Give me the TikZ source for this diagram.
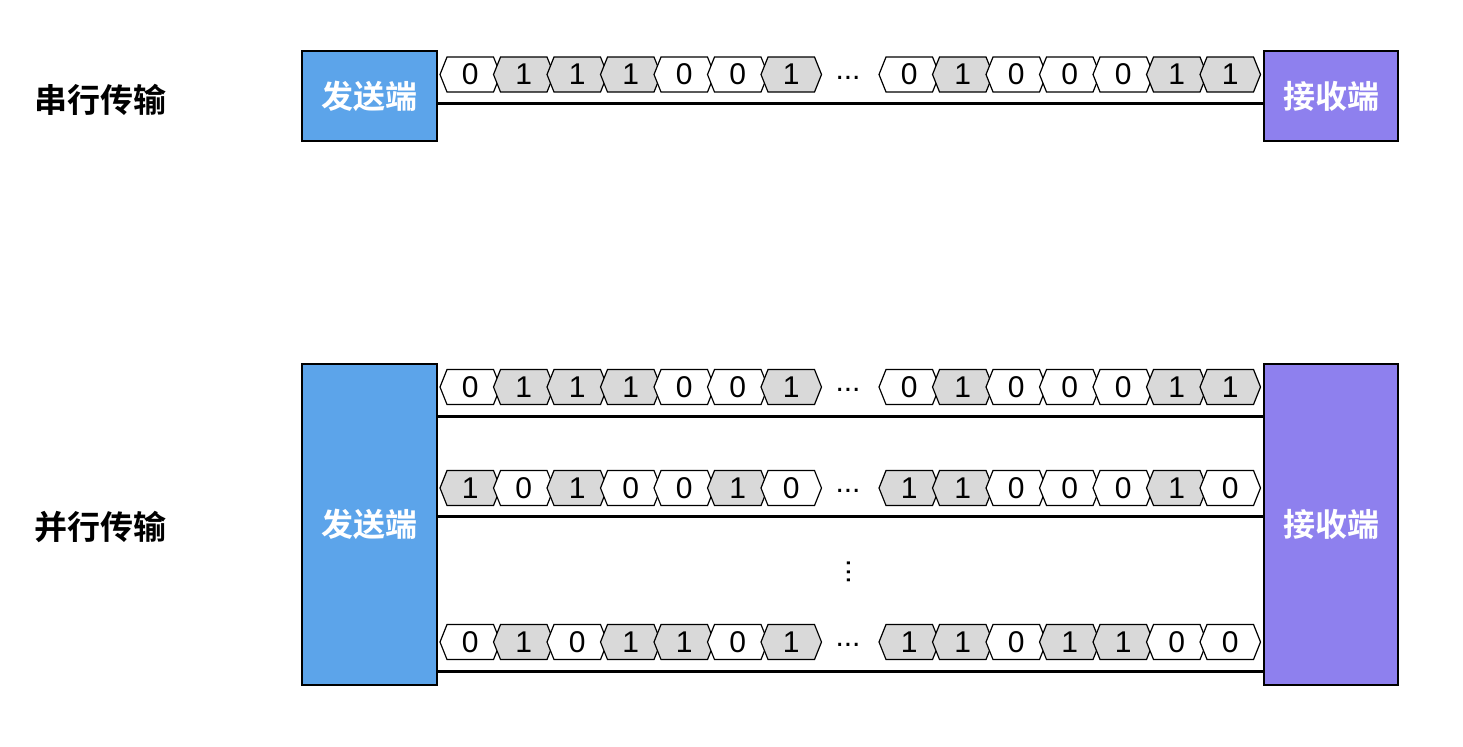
\documentclass[tikz,border=0pt]{standalone}
\usepackage{fontspec}
\setmainfont{Liberation Sans}
\newfontfamily\cjk{Noto Sans CJK SC}[BoldFont={Noto Sans CJK SC Bold}]
\definecolor{sendblue}{HTML}{5CA4EA}
\definecolor{recvpurple}{HTML}{8E80EE}
\definecolor{bitgray}{HTML}{D9D9D9}
\tikzset{
  endbox/.style={draw=black, line width=1pt, inner sep=0pt, font=\cjk\bfseries\fontsize{16}{16}\selectfont, text=white},
  wire/.style={line width=1.5pt},
  bit/.style={font=\fontsize{15}{15}\selectfont, inner sep=0pt},
  title/.style={font=\cjk\bfseries\fontsize{16.5}{16.5}\selectfont},
}
% \bitrow{name}{y}{start x}{bits}
\newcommand{\bitrow}[4]{%
  \foreach \b [count=\i from 0] in {#4} {
    \pgfmathsetmacro{\xa}{#3+53.5*\i}
    \ifnum\b=1 \def\fc{bitgray}\else\def\fc{white}\fi
    \draw[fill=\fc, line width=0.6pt] (\xa,#2) -- ++(7,-17.5) -- ++(46.5,0) -- ++(7,17.5) -- ++(-7,17.5) -- ++(-46.5,0) -- cycle;
    \node[bit] (#1-\i) at (\xa+30.25,#2) {\b};
  }%
}
\begin{document}
\begin{tikzpicture}[x=0.5pt, y=-0.5pt]
  \useasboundingbox (0,0) rectangle (1463,746);
  % serial
  \node[title] (serial) at (100,100) {串行传输};
  \node[endbox, fill=sendblue, minimum width=67.5pt, minimum height=45pt] (tx1) at (369.5,96) {发送端};
  \node[endbox, fill=recvpurple, minimum width=67pt, minimum height=45pt] (rx1) at (1331,96) {接收端};
  \coordinate (s1) at (437,103);
  \coordinate (e1) at (1264,103);
  \draw[wire] (s1) -- (e1);
  \bitrow{sa}{74.5}{440}{0,1,1,1,0,0,1}
  \bitrow{sb}{74.5}{879}{0,1,0,0,0,1,1}
  \node[bit] (sdots) at (848,78) {...};
  % parallel
  \node[title] (parallel) at (100,527) {并行传输};
  \node[endbox, fill=sendblue, minimum width=67.5pt, minimum height=160.5pt] (tx2) at (369.5,524.5) {发送端};
  \node[endbox, fill=recvpurple, minimum width=67pt, minimum height=160.5pt] (rx2) at (1331,524.5) {接收端};
  \foreach \n/\y in {p1/416, p2/516, p3/671} {
    \coordinate (\n s) at (437,\y);
    \coordinate (\n e) at (1264,\y);
    \draw[wire] (\n s) -- (\n e);
  }
  \bitrow{p1a}{387}{440}{0,1,1,1,0,0,1}
  \bitrow{p1b}{387}{879}{0,1,0,0,0,1,1}
  \node[bit] (p1dots) at (848,390) {...};
  \bitrow{p2a}{488}{440}{1,0,1,0,0,1,0}
  \bitrow{p2b}{488}{879}{1,1,0,0,0,1,0}
  \node[bit] (p2dots) at (848,491) {...};
  \bitrow{p3a}{642}{440}{0,1,0,1,1,0,1}
  \bitrow{p3b}{642}{879}{1,1,0,1,1,0,0}
  \node[bit] (p3dots) at (848,645) {...};
  \node[bit, rotate=90] (vdots) at (849,572) {...};
\end{tikzpicture}
\end{document}
